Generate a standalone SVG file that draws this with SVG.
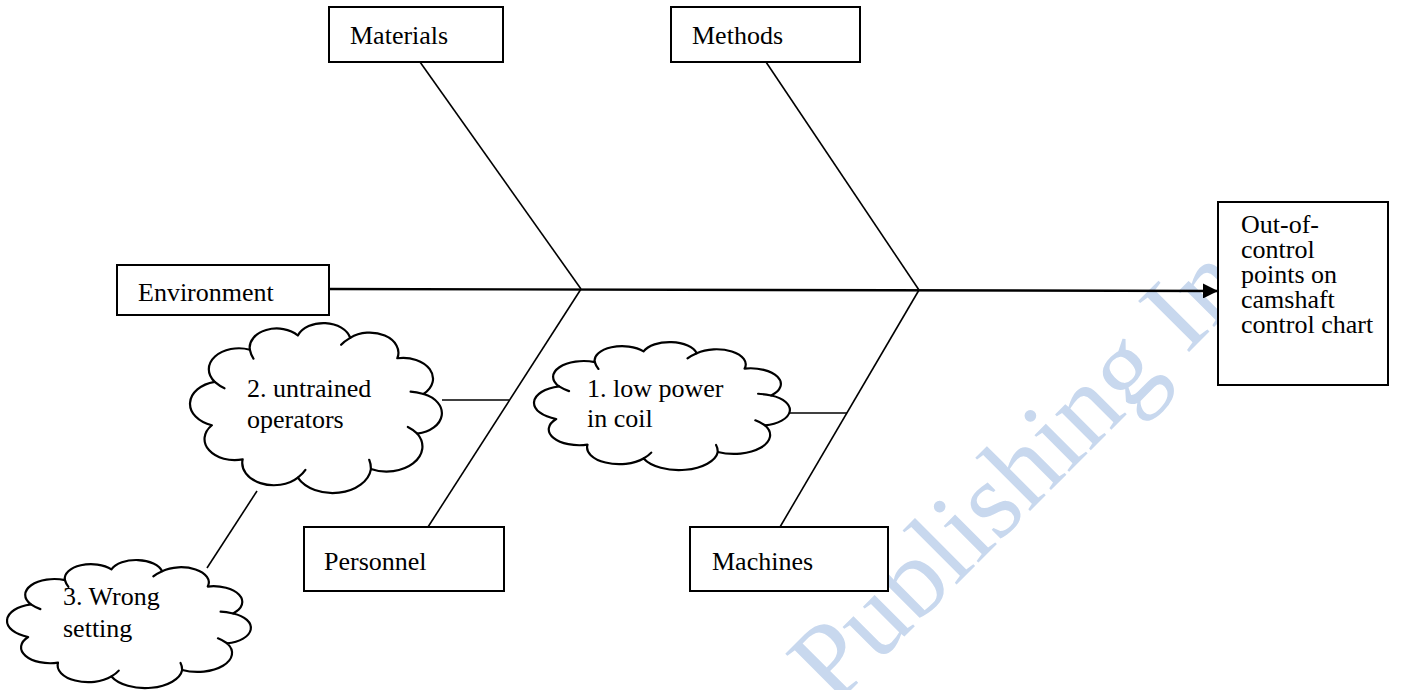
<svg xmlns="http://www.w3.org/2000/svg" xmlns:xlink="http://www.w3.org/1999/xlink" width="1403" height="690" viewBox="0 0 1403 690">
  <style>
    .lbl { font-family: "Liberation Serif", "Times New Roman", serif; font-size: 26px; fill: #000; }
    .box { fill: #fff; stroke: #000; stroke-width: 2; }
    .bone { stroke: #000; stroke-width: 1.6; fill: none; }
    .spine { stroke: #000; stroke-width: 2.4; fill: none; }
    .cloud { fill: #fff; stroke: #000; stroke-width: 2.2; stroke-linejoin: round; }
    .hook { fill: none; stroke: #000; stroke-width: 2.2; stroke-linecap: round; }
    .mark { font-family: "Liberation Serif", "Times New Roman", serif; font-size: 110px; fill: #c8d8ee; }
  </style>
  <defs>
    <marker id="arrow" viewBox="0 0 10 10" refX="10" refY="5" markerUnits="userSpaceOnUse" markerWidth="15" markerHeight="15" orient="auto">
      <path d="M0,0 L10,5 L0,10 Z" fill="#000"/>
    </marker>
    <!-- cloud outline in a 100x100 unit box, scaled per instance -->
    <path id="cloudShape" vector-effect="non-scaling-stroke" d="M11.36,59.83 A11.9,11.9 0 0 1 12.41,37.00 A11.1,11.1 0 0 1 25.37,20.06 A10,10 0 0 1 43.06,12.58 A10.1,10.1 0 0 1 62.36,13.86 A10.6,10.6 0 0 1 79.73,24.57 A11,11 0 0 1 89.39,43.40 A10.9,10.9 0 0 1 87.09,64.23 A13.2,13.2 0 0 1 70,82.91 A14.2,14.2 0 0 1 43.06,87.42 A11.7,11.7 0 0 1 22.72,77.79 A11.1,11.1 0 0 1 11.36,59.83 Z"/>
    <path id="cloudHooks" vector-effect="non-scaling-stroke" d="M12.41,37 Q14.28,39.24 16.01,40.36 M25.37,20.06 Q25.8,22.94 26.69,24.8 M62.36,13.86 Q60.13,15.74 59.01,17.47 M89.39,43.4 Q86.67,42.33 84.62,42.17 M87.09,64.23 Q85.3,61.93 83.61,60.75 M70,82.91 Q69.98,79.99 69.37,78.02 M43.06,87.42 Q44.99,85.23 45.85,83.36"/>
  </defs>

  <!-- watermark, partly hidden under the effect box -->
  <text class="mark" transform="translate(834,707) rotate(-45)">Publishing In</text>

  <!-- connectors: spine, bones and cloud links -->
  <g id="connectors">
    <line class="spine" x1="329" y1="289" x2="1218" y2="291" marker-end="url(#arrow)"/>
    <line class="bone" x1="420" y1="62" x2="581" y2="289"/>
    <line class="bone" x1="581" y1="289" x2="428" y2="527"/>
    <line class="bone" x1="766" y1="62" x2="919" y2="290"/>
    <line class="bone" x1="919" y1="290" x2="780" y2="527"/>
    <line class="bone" x1="442" y1="400" x2="509" y2="400"/>
    <line class="bone" x1="790" y1="413" x2="847" y2="413"/>
    <line class="bone" x1="257" y1="491" x2="207" y2="568"/>
  </g>

  <g id="materials">
    <rect class="box" x="329" y="7" width="174" height="55"/>
    <text class="lbl" x="350" y="44">Materials</text>
  </g>
  <g id="methods">
    <rect class="box" x="671" y="7" width="189" height="55"/>
    <text class="lbl" x="692" y="44">Methods</text>
  </g>
  <g id="environment">
    <rect class="box" x="117" y="265" width="212" height="50"/>
    <text class="lbl" x="138" y="301">Environment</text>
  </g>
  <g id="personnel">
    <rect class="box" x="304" y="527" width="200" height="64"/>
    <text class="lbl" x="324" y="570">Personnel</text>
  </g>
  <g id="machines">
    <rect class="box" x="690" y="527" width="198" height="64"/>
    <text class="lbl" x="712" y="570">Machines</text>
  </g>
  <g id="effect">
    <rect class="box" x="1218" y="202" width="170" height="183"/>
    <text class="lbl">
      <tspan x="1241" y="233">Out-of-</tspan>
      <tspan x="1241" y="258">control</tspan>
      <tspan x="1241" y="283">points on</tspan>
      <tspan x="1241" y="308">camshaft</tspan>
      <tspan x="1241" y="333">control chart</tspan>
    </text>
  </g>

  <g id="cause-untrained-operators">
    <g transform="translate(181.05,311.6) scale(2.7126,1.8994)">
      <use xlink:href="#cloudShape" class="cloud"/>
      <use xlink:href="#cloudHooks" class="hook"/>
    </g>
    <text class="lbl"><tspan x="247" y="397">2. untrained</tspan><tspan x="247" y="428">operators</tspan></text>
  </g>
  <g id="cause-low-power">
    <g transform="translate(524.91,333.42) scale(2.7556,1.4302)">
      <use xlink:href="#cloudShape" class="cloud"/>
      <use xlink:href="#cloudHooks" class="hook"/>
    </g>
    <text class="lbl"><tspan x="587" y="397">1. low power</tspan><tspan x="587" y="427">in coil</tspan></text>
  </g>
  <g id="cause-wrong-setting">
    <g transform="translate(-1.67,551.4) scale(2.6265,1.4302)">
      <use xlink:href="#cloudShape" class="cloud"/>
      <use xlink:href="#cloudHooks" class="hook"/>
    </g>
    <text class="lbl"><tspan x="63" y="605">3. Wrong</tspan><tspan x="63" y="637">setting</tspan></text>
  </g>
</svg>
